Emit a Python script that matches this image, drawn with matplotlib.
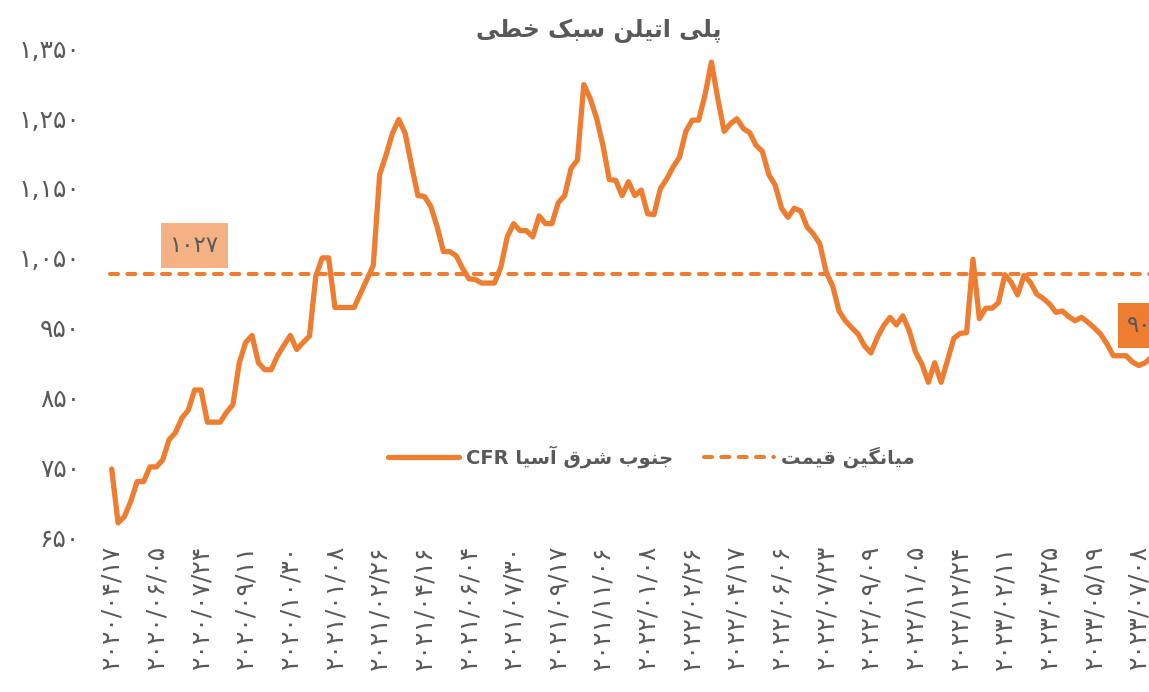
import re
import matplotlib
matplotlib.use("Agg")
import matplotlib.pyplot as plt
from matplotlib.lines import Line2D
from matplotlib.patches import Rectangle

# ---------------- data ----------------
title = "پلی اتیلن سبک خطی"
series_name = "جنوب شرق آسیا CFR"
avg_name = "میانگین قیمت"
avg_value = 1027
last_value_label = 908

tick_dates = [
    "2020/04/17", "2020/06/05", "2020/07/24", "2020/09/11", "2020/10/30",
    "2021/01/08", "2021/02/26", "2021/04/16", "2021/06/04", "2021/07/30",
    "2021/09/17", "2021/11/06", "2022/01/08", "2022/02/26", "2022/04/17",
    "2022/06/06", "2022/07/23", "2022/09/09", "2022/11/05", "2022/12/24",
    "2023/02/11", "2023/03/25", "2023/05/19", "2023/07/08",
]

prices = [
    748, 671, 680, 702, 730, 730, 751, 751, 761, 790,
    800, 821, 832, 861, 861, 815, 815, 815, 829, 840,
    900, 929, 939, 900, 890, 890, 910, 925, 939, 919,
    929, 938, 1024, 1050, 1050, 979, 979, 979, 979, 999,
    1019, 1039, 1169, 1197, 1228, 1248, 1228, 1182, 1139, 1138,
    1124, 1095, 1059, 1059, 1053, 1035, 1020, 1019, 1014, 1014,
    1014, 1037, 1080, 1099, 1089, 1089, 1080, 1110, 1099, 1099,
    1129, 1139, 1178, 1190, 1298, 1278, 1250, 1211, 1162, 1161,
    1139, 1159, 1139, 1147, 1113, 1112, 1149, 1163, 1180, 1194,
    1231, 1247, 1247, 1283, 1330, 1278, 1231, 1242, 1249, 1235,
    1229, 1211, 1202, 1169, 1154, 1121, 1108, 1121, 1117, 1094,
    1084, 1070, 1029, 1010, 974, 960, 950, 941, 924, 914,
    936, 953, 965, 954, 967, 946, 915, 898, 872, 900,
    872, 903, 935, 942, 943, 1048, 963, 978, 978, 986,
    1026, 1015, 997, 1025, 1015, 998, 992, 984, 972, 974,
    966, 960, 965, 958, 950, 941, 927, 910, 910, 910,
    901, 896, 900, 908,
]

y_ticks = [650, 750, 850, 950, 1050, 1150, 1250, 1350]
tick_every = 7

# ---------------- style ----------------
ORANGE = "#ED7D31"
LIGHT = "#F4B183"
TXT = "#595959"
W, H = 1149, 692

FA_DIGITS = str.maketrans("0123456789", "۰۱۲۳۴۵۶۷۸۹")


def fa(s):
    return str(s).translate(FA_DIGITS)


# Arabic presentation forms: (isolated, final, initial, medial)
FORMS = {
    "\u0627": ("\uFE8D", "\uFE8E", None, None),
    "\u0622": ("\uFE81", "\uFE82", None, None),
    "\u0628": ("\uFE8F", "\uFE90", "\uFE91", "\uFE92"),
    "\u067E": ("\uFB56", "\uFB57", "\uFB58", "\uFB59"),
    "\u062A": ("\uFE95", "\uFE96", "\uFE97", "\uFE98"),
    "\u062C": ("\uFE9D", "\uFE9E", "\uFE9F", "\uFEA0"),
    "\u062E": ("\uFEA5", "\uFEA6", "\uFEA7", "\uFEA8"),
    "\u0631": ("\uFEAD", "\uFEAE", None, None),
    "\u0633": ("\uFEB1", "\uFEB2", "\uFEB3", "\uFEB4"),
    "\u0634": ("\uFEB5", "\uFEB6", "\uFEB7", "\uFEB8"),
    "\u0637": ("\uFEC1", "\uFEC2", "\uFEC3", "\uFEC4"),
    "\u0642": ("\uFED5", "\uFED6", "\uFED7", "\uFED8"),
    "\u06A9": ("\uFB8E", "\uFB8F", "\uFB90", "\uFB91"),
    "\u06AF": ("\uFB92", "\uFB93", "\uFB94", "\uFB95"),
    "\u0644": ("\uFEDD", "\uFEDE", "\uFEDF", "\uFEE0"),
    "\u0645": ("\uFEE1", "\uFEE2", "\uFEE3", "\uFEE4"),
    "\u0646": ("\uFEE5", "\uFEE6", "\uFEE7", "\uFEE8"),
    "\u0648": ("\uFEED", "\uFEEE", None, None),
    "\u06CC": ("\uFBFC", "\uFBFD", "\uFBFE", "\uFBFF"),
}


def shape(s):
    def joins_next(c):
        f = FORMS.get(c)
        return f is not None and f[2] is not None

    out = []
    for k, c in enumerate(s):
        f = FORMS.get(c)
        if f is None:
            out.append(c)
            continue
        prev = s[k - 1] if k > 0 else ""
        nxt = s[k + 1] if k + 1 < len(s) else ""
        jp = joins_next(prev)
        jn = f[2] is not None and nxt in FORMS
        if jp and jn:
            out.append(f[3])
        elif jp:
            out.append(f[1])
        elif jn:
            out.append(f[2])
        else:
            out.append(f[0])
    vis = "".join(out)[::-1]
    return re.sub(r"[A-Za-z0-9]+", lambda m: m.group(0)[::-1], vis)


def fx(x):
    return x / W


def fy(y):
    return 1 - y / H


plt.rcParams["font.family"] = ["DejaVu Sans"]

fig = plt.figure(figsize=(W / 100, H / 100), dpi=100)
fig.patch.set_facecolor("white")

ax = fig.add_axes([108.5 / W, 1 - 537.5 / H, 1046.3 / W, 524.3 / H])
ax.set_xlim(-0.5, 163.5)
ax.set_ylim(650, 1400)
for sp in ax.spines.values():
    sp.set_visible(False)

xs = list(range(len(prices)))
ax.plot([-0.25, len(prices)], [avg_value, avg_value], color=ORANGE, lw=2.9,
        dashes=(2.0, 2.3), dash_capstyle="round", clip_on=False, zorder=2)
ax.plot(xs, prices, color=ORANGE, lw=3.8, solid_joinstyle="round",
        solid_capstyle="round", clip_on=False, zorder=3)

ax.set_xticks(list(range(0, len(prices), tick_every))[:len(tick_dates)])
ax.set_xticklabels([fa(d) for d in tick_dates], rotation=90, fontsize=18,
                   color=TXT)
ax.set_yticks(y_ticks)
ax.set_yticklabels([fa(f"{v:,}") for v in y_ticks], fontsize=18, color=TXT)
ax.tick_params(axis="x", length=0, pad=5.4)
ax.tick_params(axis="y", length=0, pad=20.5)

# title
fig.text(fx(599), fy(31), shape(title), ha="center", va="center",
         fontsize=17, fontweight="bold", color=TXT)

# average label box
fig.add_artist(Rectangle((fx(161), fy(268)), (228 - 161) / W, 45 / H,
                         facecolor=LIGHT, edgecolor="none"))
fig.text(fx(194.5), fy(245.5), fa(avg_value), ha="center", va="center",
         fontsize=16.5, color=TXT)

# last value label box (cropped at the right edge, as in the source)
fig.add_artist(Rectangle((fx(1118), fy(348)), 70 / W, 45 / H,
                         facecolor=ORANGE, edgecolor="none"))
fig.text(fx(1127), fy(325.5), fa(last_value_label), ha="left", va="center",
         fontsize=16.5, color=TXT)

# legend
ly = fy(457)
fig.add_artist(Line2D([fx(388), fx(459)], [ly, ly], color=ORANGE, lw=3.8,
                      solid_capstyle="round"))
fig.text(fx(466), ly, shape(series_name), ha="left", va="center",
         fontsize=14, fontweight="bold", color=TXT)
fig.add_artist(Line2D([fx(704), fx(774)], [ly, ly], color=ORANGE, lw=2.9,
                      dashes=(2.0, 2.3), dash_capstyle="round"))
fig.text(fx(781), ly, shape(avg_name), ha="left", va="center",
         fontsize=14, fontweight="bold", color=TXT)

# dotted border fragment at top right
fig.add_artist(Line2D([fx(1133), fx(1133)], [fy(0), fy(49)], color=ORANGE,
                      lw=2.2, dashes=(0, 2.7), dash_capstyle="round"))

fig.savefig("out.png", dpi=100)
